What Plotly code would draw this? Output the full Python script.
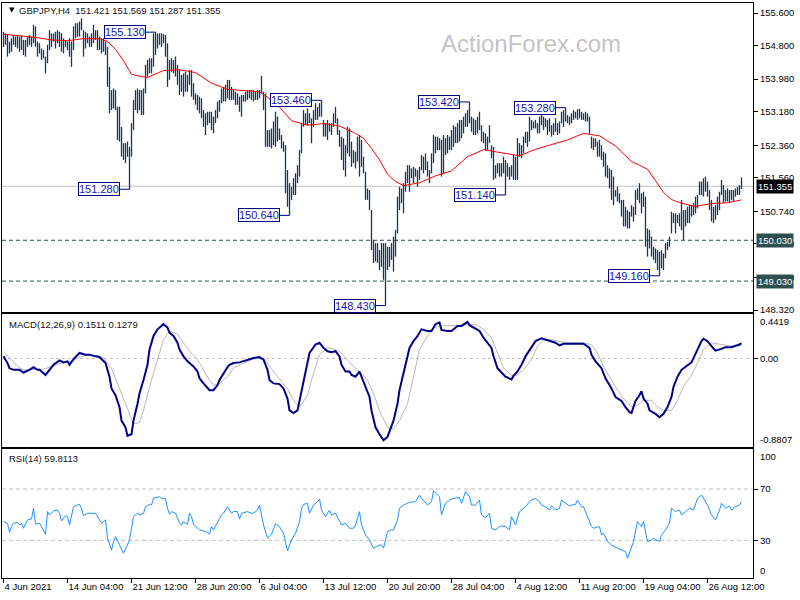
import plotly.graph_objects as go

FONT = "Liberation Sans, Arial, sans-serif"
BAR_COLOR = "#143a52"

# ---------------- data (GBPJPY H4 bars, index 0 = 4 Jun 2021) ----------------
high = [
    155.14, 155.10, 155.06, 154.90, 154.98, 155.06, 155.02, 155.06, 155.02, 155.06,
    154.94, 154.94, 155.02, 155.06, 155.02, 155.31, 155.27, 154.90, 154.86, 154.73,
    154.69, 154.53, 154.82, 155.18, 155.10, 155.10, 155.14, 155.18, 155.14, 155.10,
    154.98, 154.94, 154.90, 154.98, 154.90, 155.27, 155.35, 155.35, 155.39, 155.47,
    155.18, 155.14, 155.10, 155.02, 155.10, 155.31, 155.18, 155.18, 155.02, 154.98,
    154.98, 154.90, 154.77, 154.28, 153.71, 153.75, 153.71, 153.30, 153.30, 152.81,
    152.41, 152.41, 152.45, 152.32, 152.90, 153.47, 153.71, 153.75, 153.71, 153.71,
    153.75, 154.33, 154.45, 154.49, 154.49, 155.10, 155.13, 155.10, 155.10, 155.10,
    155.08, 155.06, 154.86, 154.45, 154.49, 154.45, 154.53, 154.33, 154.20, 154.08,
    154.12, 154.16, 154.08, 154.20, 154.20, 153.88, 153.63, 153.59, 153.55, 153.51,
    153.22, 153.14, 153.18, 153.18, 153.18, 153.06, 153.22, 153.43, 153.47, 153.75,
    153.79, 153.84, 153.96, 153.96, 153.79, 153.71, 153.67, 153.63, 153.55, 153.59,
    153.59, 153.67, 153.71, 153.71, 153.71, 153.71, 153.67, 153.71, 153.71, 154.06,
    153.67, 153.63, 152.73, 152.73, 152.77, 152.94, 153.18, 153.06, 152.77, 152.61,
    152.45, 152.36, 151.75, 151.43, 151.34, 151.55, 151.67, 151.87, 152.24, 152.90,
    153.22, 153.14, 153.26, 153.14, 153.02, 153.22, 153.39, 153.30, 153.39, 153.46,
    152.98, 152.90, 152.98, 152.90, 152.90, 153.14, 153.30, 153.02, 152.73, 152.57,
    152.53, 152.36, 152.81, 152.77, 152.45, 152.24, 152.20, 152.57, 152.61, 152.49,
    152.08, 151.71, 151.30, 151.26, 150.77, 150.04, 149.96, 149.96, 149.79, 149.96,
    149.96, 149.96, 149.87, 149.87, 149.96, 150.12, 150.28, 151.10, 151.34, 151.30,
    151.43, 151.71, 151.87, 151.87, 151.79, 151.83, 151.79, 151.75, 151.83, 152.12,
    152.08, 152.16, 151.96, 151.75, 152.16, 152.61, 152.57, 152.57, 152.53, 152.49,
    152.61, 152.53, 152.61, 152.57, 152.73, 152.85, 152.81, 152.90, 152.98, 152.98,
    153.06, 153.14, 153.22, 153.42, 153.06, 153.02, 152.98, 153.06, 153.18, 152.85,
    152.69, 152.65, 152.57, 152.85, 152.36, 152.32, 151.87, 151.92, 151.92, 151.92,
    152.08, 152.00, 151.92, 151.83, 151.87, 152.12, 152.08, 152.53, 152.41, 152.36,
    152.57, 152.69, 152.69, 153.06, 152.98, 152.94, 152.98, 152.90, 153.06, 153.22,
    153.06, 153.02, 152.98, 153.02, 152.85, 152.90, 153.02, 152.90, 152.94, 153.18,
    153.22, 153.28, 153.10, 153.06, 153.14, 153.22, 153.18, 153.24, 153.25, 153.18,
    153.14, 153.18, 153.14, 153.06, 152.57, 152.53, 152.53, 152.45, 152.49, 152.36,
    152.20, 152.16, 151.87, 151.79, 151.75, 151.59, 151.26, 151.34, 151.18, 151.02,
    151.02, 150.85, 150.77, 150.73, 150.89, 150.85, 151.26, 151.30, 151.43, 151.18,
    151.22, 151.10, 150.32, 150.28, 150.12, 149.87, 149.83, 149.79, 149.75, 149.79,
    149.71, 149.96, 149.99, 150.12, 150.73, 150.69, 150.69, 150.65, 150.69, 151.02,
    150.77, 150.77, 150.85, 150.89, 150.89, 150.94, 151.10, 151.14, 151.47, 151.47,
    151.55, 151.59, 151.47, 151.26, 151.02, 150.85, 150.89, 151.10, 151.22, 151.51,
    151.38, 151.26, 151.30, 151.26, 151.26, 151.26, 151.30, 151.34, 151.38, 151.569,
]
low = [
    154.77, 154.82, 154.53, 154.61, 154.65, 154.82, 154.77, 154.73, 154.65, 154.69,
    154.57, 154.53, 154.77, 154.82, 154.77, 154.86, 154.77, 154.53, 154.61, 154.45,
    154.49, 154.12, 154.37, 154.69, 154.77, 154.90, 154.73, 154.86, 154.77, 154.65,
    154.61, 154.77, 154.69, 154.53, 154.28, 154.69, 154.98, 155.02, 155.02, 155.18,
    154.53, 154.73, 154.86, 154.77, 154.77, 154.86, 154.94, 154.69, 154.69, 154.61,
    154.65, 154.57, 153.79, 153.14, 153.22, 153.26, 153.22, 152.49, 152.45, 152.08,
    152.00, 151.92, 152.08, 151.28, 152.08, 152.73, 153.22, 153.14, 153.22, 153.10,
    153.10, 153.63, 154.04, 154.12, 154.12, 154.28, 154.57, 154.73, 154.82, 154.77,
    154.86, 154.53, 153.79, 153.96, 154.16, 154.12, 154.04, 153.84, 153.59, 153.67,
    153.55, 153.67, 153.67, 153.84, 153.55, 153.47, 153.35, 153.22, 153.14, 153.02,
    152.81, 152.61, 152.85, 152.90, 152.73, 152.65, 152.90, 153.02, 153.18, 153.39,
    153.43, 153.43, 153.51, 153.47, 153.47, 153.47, 153.35, 153.35, 153.18, 153.06,
    153.43, 153.43, 153.47, 153.51, 153.47, 153.43, 153.47, 153.47, 153.51, 153.63,
    153.22, 152.32, 152.32, 152.32, 152.28, 152.36, 152.32, 152.45, 152.49, 152.28,
    152.20, 151.18, 150.85, 150.64, 151.02, 151.14, 151.14, 151.43, 151.59, 152.16,
    152.81, 152.85, 152.85, 152.90, 152.41, 152.81, 152.98, 152.98, 153.06, 153.06,
    152.57, 152.57, 152.49, 152.69, 152.61, 152.81, 152.90, 152.61, 152.32, 152.00,
    151.75, 151.59, 152.16, 152.08, 151.83, 151.92, 151.79, 151.96, 151.59, 151.83,
    151.67, 151.02, 151.02, 150.77, 149.79, 149.47, 149.51, 149.47, 149.30, 149.38,
    149.06, 148.43, 149.30, 149.38, 149.55, 149.26, 149.63, 150.20, 150.77, 150.94,
    150.69, 151.22, 151.43, 151.22, 151.55, 151.43, 151.59, 151.34, 151.51, 151.75,
    151.67, 151.75, 151.59, 151.43, 151.67, 151.92, 152.16, 152.24, 152.24, 151.59,
    151.67, 152.12, 152.16, 152.24, 152.24, 152.32, 152.41, 152.41, 152.45, 152.53,
    152.65, 152.81, 152.81, 152.90, 152.69, 152.61, 152.61, 152.65, 152.73, 152.45,
    152.41, 152.24, 152.24, 152.41, 152.04, 151.51, 151.55, 151.67, 151.59, 151.59,
    151.67, 151.14, 151.59, 151.51, 151.59, 151.51, 151.51, 151.51, 152.08, 152.04,
    152.16, 152.41, 152.32, 152.45, 152.73, 152.77, 152.77, 152.65, 152.65, 152.85,
    152.73, 152.81, 152.61, 152.69, 152.57, 152.61, 152.69, 152.61, 152.65, 152.90,
    152.81, 152.94, 152.90, 152.85, 152.90, 152.98, 153.02, 152.98, 153.02, 152.98,
    152.98, 152.94, 152.94, 152.65, 152.28, 152.24, 152.32, 152.08, 152.08, 152.00,
    151.83, 151.59, 151.55, 151.30, 151.02, 150.89, 151.10, 150.98, 150.94, 150.61,
    150.37, 150.37, 150.32, 150.32, 150.61, 150.49, 150.65, 151.02, 150.94, 150.69,
    150.85, 149.87, 149.63, 149.83, 149.63, 149.55, 149.47, 149.30, 149.16, 149.34,
    149.30, 149.59, 149.79, 149.87, 150.20, 150.45, 150.20, 150.45, 150.37, 150.28,
    150.04, 150.37, 150.45, 150.45, 150.61, 150.65, 150.69, 150.81, 151.14, 151.14,
    151.10, 151.22, 151.10, 150.77, 150.49, 150.45, 150.53, 150.65, 150.77, 151.14,
    150.94, 150.98, 150.98, 150.94, 151.02, 150.98, 151.10, 151.14, 151.14, 151.287,
]

# moving average (red), sampled at bar indices
ma_idx = [0, 8, 16, 24, 32, 40, 48, 52, 56, 60, 64, 68, 72, 80, 88, 96, 104, 112, 120,
          128, 136, 144, 152, 160, 168, 176, 180, 184, 188, 192, 196, 200, 208, 216, 224,
          232, 240, 248, 258, 266, 274, 282, 290, 298, 306, 314, 318, 322, 326, 330, 334,
          338, 346, 354, 362, 369]
ma_val = [155.08, 155.04, 155.00, 154.94, 154.92, 154.97, 154.97, 154.90, 154.71, 154.43,
          154.10, 154.05, 154.02, 154.19, 154.21, 154.14, 153.88, 153.73, 153.70, 153.67,
          153.40, 152.96, 152.85, 152.89, 152.83, 152.65, 152.53, 152.28, 152.00, 151.65,
          151.47, 151.37, 151.44, 151.61, 151.73, 152.08, 152.25, 152.19, 152.10, 152.26,
          152.37, 152.49, 152.65, 152.59, 152.34, 151.96, 151.87, 151.77, 151.49, 151.20,
          151.03, 150.95, 150.86, 150.93, 150.95, 151.02]

# MACD(12,26,9) main line
macd_idx = [0, 2, 3, 5, 8, 10, 13, 15, 17, 18, 21, 23, 25, 28, 30, 32, 33, 35, 38, 41, 43,
            46, 48, 51, 53, 54, 56, 58, 59, 61, 62, 64, 65, 67, 68, 70, 72, 73, 75, 77, 78,
            80, 82, 83, 85, 87, 88, 90, 92, 93, 95, 97, 98, 100, 102, 103, 105, 107, 108,
            110, 112, 113, 115, 118, 122, 125, 128, 130, 132, 133, 135, 138, 140, 142, 143,
            145, 147, 148, 150, 152, 153, 156, 158, 160, 162, 164, 166, 168, 169, 171, 173,
            174, 176, 178, 179, 181, 183, 184, 186, 188, 190, 192, 193, 195, 197, 198, 200,
            202, 203, 205, 207, 209, 212, 214, 216, 218, 219, 222, 224, 227, 229, 232, 233,
            236, 238, 240, 242, 244, 245, 247, 249, 251, 254, 255, 257, 259, 261, 264, 266,
            269, 271, 273, 276, 278, 280, 284, 287, 290, 293, 294, 296, 299, 301, 304, 306,
            309, 311, 313, 314, 316, 318, 319, 320, 322, 323, 326, 328, 330, 332, 334, 335,
            337, 339, 341, 344, 345, 347, 349, 350, 352, 354, 356, 359, 361, 364, 366, 368,
            369]
macd_val = [0.021, -0.046, -0.097, -0.113, -0.113, -0.140, -0.113, -0.086, -0.113, -0.113,
            -0.164, -0.113, -0.063, -0.019, -0.039, -0.029, -0.063, -0.006, 0.055, 0.038,
            0.038, 0.021, 0.014, -0.046, -0.181, -0.299, -0.366, -0.484, -0.618, -0.685,
            -0.769, -0.753, -0.618, -0.450, -0.349, -0.214, -0.063, 0.089, 0.223, 0.290,
            0.307, 0.341, 0.307, 0.257, 0.223, 0.156, 0.089, 0.021, -0.029, -0.046, -0.080,
            -0.130, -0.197, -0.248, -0.298, -0.315, -0.315, -0.265, -0.214, -0.147, -0.086,
            -0.063, -0.046, -0.039, -0.012, 0.004, 0.014, -0.012, -0.113, -0.214, -0.248,
            -0.255, -0.298, -0.399, -0.517, -0.544, -0.517, -0.416, -0.214, -0.046, 0.055,
            0.139, 0.156, 0.105, 0.072, 0.062, 0.072, 0.021, -0.063, -0.130, -0.130, -0.164,
            -0.181, -0.130, -0.181, -0.282, -0.383, -0.517, -0.685, -0.753, -0.814, -0.780,
            -0.719, -0.618, -0.450, -0.315, -0.147, 0.004, 0.105, 0.172, 0.223, 0.290, 0.274,
            0.274, 0.341, 0.358, 0.284, 0.274, 0.274, 0.324, 0.324, 0.364, 0.331, 0.297,
            0.274, 0.206, 0.156, 0.105, 0.021, -0.097, -0.140, -0.181, -0.208, -0.174,
            -0.130, -0.063, 0.021, 0.105, 0.172, 0.200, 0.189, 0.172, 0.156, 0.129, 0.146,
            0.146, 0.146, 0.146, 0.105, 0.038, -0.029, -0.097, -0.197, -0.298, -0.383,
            -0.423, -0.484, -0.534, -0.541, -0.423, -0.366, -0.325, -0.399, -0.450, -0.517,
            -0.551, -0.584, -0.551, -0.484, -0.383, -0.282, -0.181, -0.113, -0.086, -0.039,
            0.004, 0.089, 0.172, 0.196, 0.172, 0.122, 0.078, 0.095, 0.112, 0.112, 0.122,
            0.139, 0.1511]

# MACD signal line
sig_idx = [0, 3, 7, 10, 15, 20, 24, 29, 34, 39, 42, 47, 50, 54, 57, 60, 64, 65, 68, 70, 73,
           77, 80, 83, 87, 90, 93, 97, 100, 103, 105, 108, 112, 115, 120, 125, 130, 133, 137,
           142, 145, 148, 152, 155, 158, 162, 165, 168, 172, 175, 178, 182, 185, 188, 192,
           195, 198, 202, 205, 208, 212, 215, 220, 225, 230, 233, 237, 240, 244, 247, 250,
           254, 257, 260, 264, 267, 270, 274, 277, 282, 289, 294, 297, 300, 304, 307, 310,
           314, 317, 320, 324, 327, 330, 334, 337, 340, 344, 347, 350, 354, 359, 364, 369]
sig_val = [0.071, 0.004, -0.080, -0.113, -0.113, -0.107, -0.080, -0.046, -0.029, 0.021,
           0.038, 0.028, 0.004, -0.097, -0.248, -0.399, -0.584, -0.652, -0.635, -0.517,
           -0.282, -0.012, 0.189, 0.274, 0.240, 0.156, 0.072, -0.012, -0.113, -0.214, -0.265,
           -0.248, -0.181, -0.097, -0.046, -0.006, 0.004, -0.080, -0.181, -0.298, -0.416,
           -0.484, -0.366, -0.147, 0.038, 0.105, 0.095, 0.071, -0.012, -0.080, -0.130,
           -0.214, -0.349, -0.517, -0.685, -0.702, -0.618, -0.450, -0.181, 0.089, 0.223,
           0.307, 0.324, 0.324, 0.331, 0.341, 0.331, 0.291, 0.206, 0.055, -0.097, -0.164,
           -0.164, -0.113, -0.012, 0.122, 0.183, 0.189, 0.172, 0.156, 0.156, 0.139, 0.055,
           -0.080, -0.214, -0.315, -0.399, -0.484, -0.467, -0.416, -0.416, -0.484, -0.517,
           -0.517, -0.416, -0.282, -0.164, -0.046, 0.089, 0.156, 0.139, 0.122, 0.1279]

# RSI(14)
rsi_idx = [0, 2, 3, 4, 5, 7, 8, 9, 10, 12, 14, 15, 16, 18, 19, 21, 22, 23, 25, 27, 28, 29, 31,
           32, 33, 34, 35, 37, 38, 39, 40, 42, 43, 46, 48, 49, 51, 52, 54, 55, 56, 58, 59, 60,
           62, 63, 64, 65, 67, 68, 70, 71, 73, 74, 75, 78, 79, 81, 82, 83, 84, 86, 88, 89, 90,
           92, 93, 94, 95, 97, 98, 100, 102, 103, 104, 105, 107, 109, 110, 112, 114, 115, 117,
           118, 119, 122, 124, 125, 127, 128, 129, 130, 132, 134, 136, 138, 140, 142, 144, 146,
           148, 149, 150, 152, 153, 155, 157, 158, 159, 161, 163, 164, 166, 168, 169, 171, 173,
           175, 176, 178, 179, 181, 183, 185, 188, 189, 190, 192, 194, 195, 197, 198, 200, 203,
           206, 208, 209, 212, 214, 215, 217, 218, 219, 221, 223, 225, 228, 229, 231, 233, 234,
           236, 238, 239, 241, 243, 244, 246, 248, 249, 251, 253, 254, 256, 258, 259, 261, 263,
           264, 266, 268, 269, 271, 273, 274, 276, 278, 279, 281, 283, 284, 286, 287, 289, 290,
           292, 294, 295, 298, 299, 300, 302, 304, 307, 309, 311, 312, 314, 315, 317, 319, 320,
           322, 324, 325, 328, 329, 331, 333, 334, 336, 338, 339, 341, 343, 345, 347, 349, 350,
           352, 354, 356, 358, 359, 361, 363, 364, 366, 368, 369]
rsi_val = [44.6, 43.3, 36.2, 40.7, 43.3, 44.0, 42.0, 43.3, 39.4, 45.9, 46.6, 55.0, 42.5, 43.3,
           40.7, 34.7, 52.4, 49.8, 52.9, 53.6, 51.1, 45.1, 49.2, 48.5, 42.0, 48.5, 56.2, 57.5,
           58.1, 55.0, 49.2, 51.1, 51.1, 51.1, 45.9, 43.3, 45.9, 31.6, 22.5, 29.0, 32.9, 26.4,
           23.8, 19.9, 26.4, 30.3, 39.4, 48.5, 51.1, 49.8, 51.1, 56.2, 58.1, 57.5, 62.7, 64.0,
           62.7, 62.7, 55.0, 50.3, 52.4, 51.1, 43.3, 42.0, 44.6, 42.5, 51.1, 48.5, 42.5, 39.4,
           38.1, 37.3, 36.2, 34.7, 40.7, 38.1, 44.6, 49.8, 51.1, 56.2, 51.1, 52.4, 52.4, 46.6,
           51.1, 52.4, 51.1, 51.1, 53.6, 57.5, 49.8, 42.0, 31.6, 34.7, 43.0, 40.7, 35.5, 21.7,
           30.3, 35.5, 44.6, 55.0, 58.1, 58.8, 51.1, 57.5, 60.1, 62.2, 53.6, 48.5, 53.6, 49.8,
           51.1, 44.6, 42.0, 43.3, 39.4, 39.4, 42.0, 52.4, 42.0, 34.2, 30.3, 23.8, 26.4, 26.4,
           23.8, 36.8, 38.1, 38.1, 45.9, 55.0, 57.5, 59.6, 60.1, 65.3, 62.7, 57.5, 60.1, 68.5,
           65.3, 64.0, 49.8, 58.8, 61.4, 62.7, 63.3, 58.8, 67.9, 64.0, 57.5, 57.5, 61.4, 49.8,
           47.7, 51.1, 39.4, 38.1, 40.7, 41.2, 40.7, 38.1, 48.5, 42.0, 52.4, 53.6, 56.2, 60.1,
           61.4, 62.7, 60.1, 57.5, 56.2, 53.6, 57.0, 53.6, 55.0, 61.4, 58.8, 56.8, 57.5, 58.1,
           61.4, 56.2, 56.2, 48.5, 40.7, 39.4, 40.7, 34.2, 35.5, 29.0, 26.4, 23.8, 22.5, 21.2,
           16.0, 23.8, 29.0, 44.6, 40.7, 44.6, 29.0, 30.3, 31.6, 29.0, 34.2, 38.1, 43.3, 55.0,
           52.4, 53.6, 49.8, 52.4, 55.0, 53.6, 62.7, 65.3, 62.7, 57.5, 49.8, 45.9, 53.6, 58.8,
           55.0, 56.8, 53.6, 56.2, 57.5, 59.8113]

# labelled swing highs / lows
swing_idx = [76, 63, 159, 143, 191, 233, 251, 281, 328]
swing_price = [155.13, 151.28, 153.46, 150.64, 148.43, 153.42, 151.14, 153.28, 149.16]

# axes
price_ticks = [155.6, 154.8, 153.98, 153.18, 152.36, 151.56, 150.74, 149.94, 149.12, 148.32]
date_tick_idx = [0, 32, 64, 96, 128, 160, 192, 224, 256, 288, 320, 352]
date_tick_text = ["4 Jun 2021", "14 Jun 04:00", "21 Jun 12:00", "28 Jun 20:00", "6 Jul 04:00",
                  "13 Jul 12:00", "20 Jul 20:00", "28 Jul 04:00", "4 Aug 12:00",
                  "11 Aug 20:00", "19 Aug 04:00", "26 Aug 12:00"]
last_ohlc = [151.421, 151.569, 151.287, 151.355]
support_levels = [150.03, 149.03]
macd_scale = [-0.8807, 0.4419]
macd_last = [0.1511, 0.1279]
rsi_levels = [70, 30]
rsi_last = 59.8113

# ---------------- figure ----------------
fig = go.Figure()

bx, by = [], []
for i, (h, l) in enumerate(zip(high, low)):
    bx += [i, i, None]
    by += [l, h, None]
fig.add_trace(go.Scatter(x=bx, y=by, mode="lines", line=dict(color=BAR_COLOR, width=1.3),
                         hoverinfo="skip", xaxis="x", yaxis="y"))
fig.add_trace(go.Scatter(x=ma_idx, y=ma_val, mode="lines", line=dict(color="#ff0000", width=1),
                         hoverinfo="skip", xaxis="x", yaxis="y"))
fig.add_trace(go.Scatter(x=sig_idx, y=sig_val, mode="lines", line=dict(color="#b9b9b9", width=1),
                         hoverinfo="skip", xaxis="x2", yaxis="y2"))
fig.add_trace(go.Scatter(x=macd_idx, y=macd_val, mode="lines", line=dict(color="#00008b", width=2),
                         hoverinfo="skip", xaxis="x2", yaxis="y2"))
fig.add_trace(go.Scatter(x=rsi_idx, y=rsi_val, mode="lines", line=dict(color="#1e90ff", width=1),
                         hoverinfo="skip", xaxis="x3", yaxis="y3"))

frame = dict(showline=True, mirror=True, linecolor="black", linewidth=1,
             showgrid=False, zeroline=False, automargin=False)
tickfont = dict(family=FONT, size=9.5, color="black")
xr = [-0.75, 374.75]

shapes = [dict(type="line", xref="x domain", x0=0, x1=1, yref="y", y0=last_ohlc[3], y1=last_ohlc[3],
               line=dict(color="#c0c0c0", width=1), layer="below")]
for lv in support_levels:
    shapes.append(dict(type="line", xref="x domain", x0=0, x1=1, yref="y", y0=lv, y1=lv,
                       line=dict(color="#2f4f4f", width=1, dash="4px,3px"), layer="below"))
shapes.append(dict(type="line", xref="x2 domain", x0=0, x1=1, yref="y2", y0=0, y1=0,
                   line=dict(color="#c0c0c0", width=1, dash="3px,3px"), layer="below"))
for lv in rsi_levels:
    shapes.append(dict(type="line", xref="x3 domain", x0=0, x1=1, yref="y3", y0=lv, y1=lv,
                       line=dict(color="#c0c0c0", width=1, dash="4px,3px"), layer="below"))

ann = []
for k, p in zip(swing_idx, swing_price):
    ann.append(dict(x=k, y=p, xref="x", yref="y", text=f"{p:.3f}", showarrow=True,
                    arrowhead=0, arrowwidth=1, arrowcolor="#000080", ax=-31, ay=0,
                    bgcolor="white", bordercolor="#000080", borderwidth=1, borderpad=0,
                    font=dict(family=FONT, size=11, color="#1515b5")))
# right-side price boxes
ann.append(dict(x=1, xref="paper", xanchor="left", xshift=3, y=last_ohlc[3], yref="y",
                text=f"{last_ohlc[3]:.3f}", showarrow=False, bgcolor="black", borderpad=1,
                font=dict(family=FONT, size=9.5, color="white")))
for lv in support_levels:
    ann.append(dict(x=1, xref="paper", xanchor="left", xshift=3, y=lv, yref="y",
                    text=f"{lv:.3f}", showarrow=False, bgcolor="#2f4f4f", borderpad=1,
                    font=dict(family=FONT, size=9.5, color="white")))
# MACD scale extremes
ann.append(dict(x=1, xref="paper", xanchor="left", xshift=5, y=macd_scale[1], yref="y2",
                yanchor="top", text=f"{macd_scale[1]:.4f}", showarrow=False, font=tickfont))
ann.append(dict(x=1, xref="paper", xanchor="left", xshift=5, y=macd_scale[0], yref="y2",
                yanchor="bottom", text=f"{macd_scale[0]:.4f}", showarrow=False, font=tickfont))
# RSI scale extremes
ann.append(dict(x=1, xref="paper", xanchor="left", xshift=5, y=101.2, yref="y3",
                yanchor="top", text="100", showarrow=False, font=tickfont))
ann.append(dict(x=1, xref="paper", xanchor="left", xshift=5, y=0.6, yref="y3",
                yanchor="bottom", text="0", showarrow=False, font=tickfont))
# titles
ann.append(dict(x=0.0065, xref="paper", y=0.9875, yref="paper", xanchor="left", yanchor="middle",
                text="▼", showarrow=False, font=dict(family="DejaVu Sans", size=7, color="black")))
ann.append(dict(x=0.0205, xref="paper", y=0.9875, yref="paper", xanchor="left", yanchor="middle",
                text="GBPJPY,H4  " + " ".join(f"{v:.3f}" for v in last_ohlc), showarrow=False,
                font=dict(family=FONT, size=9.5, color="#101010")))
ann.append(dict(x=0.0065, xref="paper", y=0.4415, yref="paper", xanchor="left", yanchor="middle",
                text=f"MACD(12,26,9) {macd_last[0]:.4f} {macd_last[1]:.4f}", showarrow=False,
                font=dict(family=FONT, size=9.5, color="#101010")))
ann.append(dict(x=0.0065, xref="paper", y=0.207, yref="paper", xanchor="left", yanchor="middle",
                text=f"RSI(14) {rsi_last:.4f}", showarrow=False,
                font=dict(family=FONT, size=9.5, color="#101010")))
# watermark
ann.append(dict(x=0.704, xref="paper", y=0.9287, yref="paper", xanchor="center", yanchor="middle",
                text="ActionForex.com", showarrow=False,
                font=dict(family=FONT, size=24, color="#c4c4c4")))

fig.update_layout(
    width=800, height=600, margin=dict(l=2, r=47, t=3, b=22, autoexpand=False),
    paper_bgcolor="white", plot_bgcolor="white", showlegend=False,
    xaxis=dict(domain=[0, 1], range=xr, anchor="y", showticklabels=False, ticks="", **frame),
    xaxis2=dict(domain=[0, 1], range=xr, anchor="y2", matches="x", showticklabels=False,
                ticks="", **frame),
    xaxis3=dict(domain=[0, 1], range=xr, anchor="y3", matches="x", tickmode="array",
                tickvals=date_tick_idx, ticktext=date_tick_text, ticks="outside", ticklen=4,
                tickangle=0, tickcolor="black", ticklabelposition="outside right",
                tickfont=tickfont, **frame),
    yaxis=dict(domain=[0.4626, 1.0], range=[148.272, 155.845], side="right", anchor="x",
               tickmode="array", tickvals=price_ticks,
               ticktext=[f"{v:.3f}" for v in price_ticks], ticks="outside", ticklen=4,
               tickcolor="black", tickfont=tickfont, **frame),
    yaxis2=dict(domain=[0.2278, 0.4591], range=macd_scale, side="right", anchor="x2",
                tickmode="array", tickvals=[0], ticktext=["0.00"], ticks="outside", ticklen=4,
                tickcolor="black", tickfont=tickfont, **frame),
    yaxis3=dict(domain=[0, 0.2243], range=[0.6, 101.2], side="right", anchor="x3",
                tickmode="array", tickvals=rsi_levels, ticktext=[str(v) for v in rsi_levels],
                ticks="outside", ticklen=4, tickcolor="black", tickfont=tickfont, **frame),
    shapes=shapes, annotations=ann,
)

fig.write_html("out.html", config={"displayModeBar": False},
               post_script="document.body.style.margin='0';")
